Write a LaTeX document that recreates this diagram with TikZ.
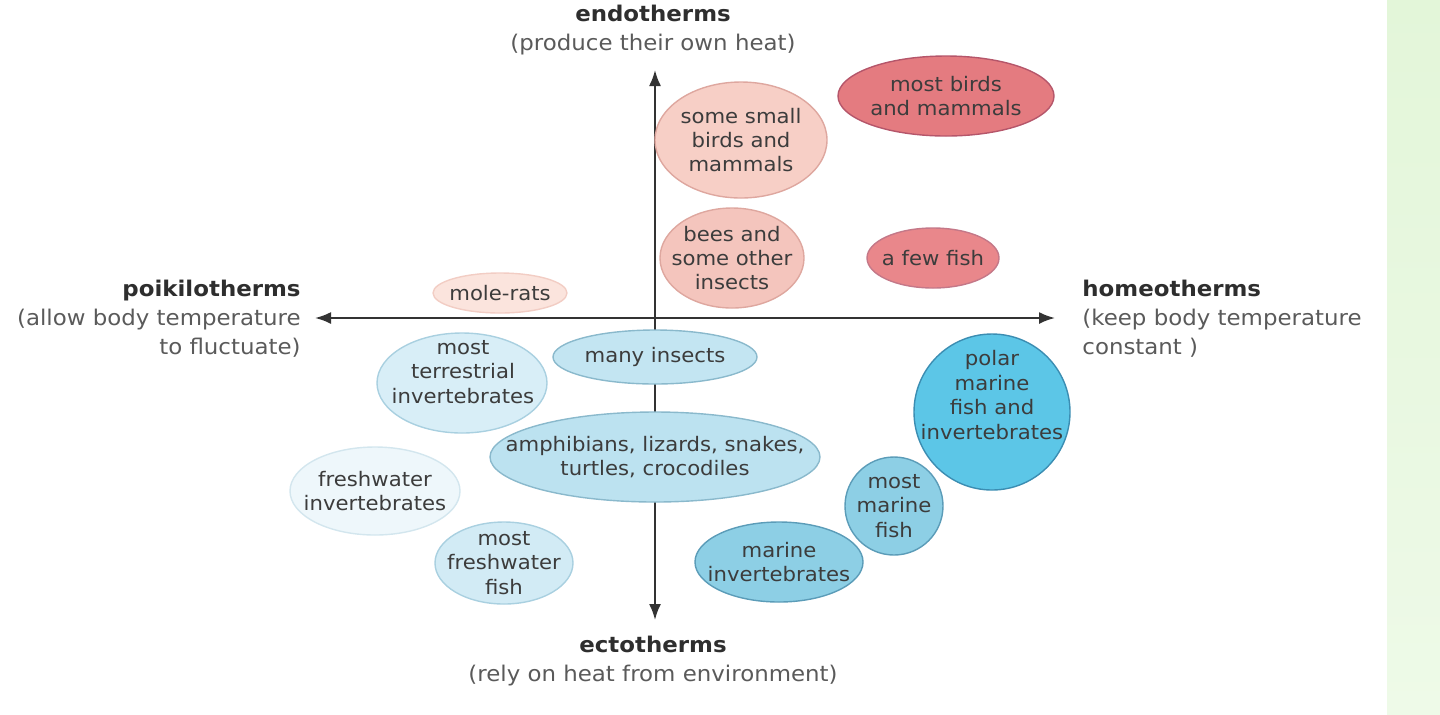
\documentclass[tikz,border=0pt]{standalone}
\usepackage{fontspec}
\setmainfont[FakeStretch=1.06]{DejaVu Sans}
\usetikzlibrary{shapes.geometric,arrows.meta}

\definecolor{axisgray}{HTML}{333333}
\definecolor{headgray}{HTML}{2E2E2E}
\definecolor{subgray}{HTML}{5A5A5A}
\definecolor{txtgray}{HTML}{3C3C3C}
\definecolor{stripA}{HTML}{E3F6D9}
\definecolor{stripB}{HTML}{EEFAE8}
\definecolor{pinkA}{HTML}{F7CFC6}
\definecolor{pinkAline}{HTML}{DEA79F}
\definecolor{redA}{HTML}{E47B80}
\definecolor{redAline}{HTML}{B5566A}
\definecolor{pinkB}{HTML}{F4C5BD}
\definecolor{redB}{HTML}{E9878B}
\definecolor{pinkC}{HTML}{FBE4DD}
\definecolor{pinkCline}{HTML}{F2CDC4}
\definecolor{blueA}{HTML}{C3E5F2}
\definecolor{blueAline}{HTML}{8AB9CC}
\definecolor{blueB}{HTML}{D8EEF7}
\definecolor{blueBline}{HTML}{A9D0E0}
\definecolor{blueC}{HTML}{BCE2F0}
\definecolor{blueD}{HTML}{EEF7FB}
\definecolor{blueDline}{HTML}{D3E6EE}
\definecolor{blueE}{HTML}{D2EBF5}
\definecolor{blueF}{HTML}{8DCFE5}
\definecolor{blueFline}{HTML}{5B9CB8}
\definecolor{blueH}{HTML}{5CC6E7}
\definecolor{blueHline}{HTML}{3B8DB2}

\tikzset{
  blob/.style={ellipse, draw, line width=0.7pt, inner sep=0pt},
  blobtext/.style={align=center, text=txtgray, inner sep=0pt,
    font=\fontsize{10}{12.2}\selectfont},
  axis/.style={line width=1pt, draw=axisgray,
    {Latex[length=8pt,width=6pt]}-{Latex[length=8pt,width=6pt]}},
  headtext/.style={inner sep=0pt, font=\fontsize{10.8}{14.5}\selectfont}
}

\begin{document}
\begin{tikzpicture}[x=0.5pt, y=-0.5pt]
  \useasboundingbox (0,0) rectangle (1440,714);
  % green strip
  \fill[top color=stripA, bottom color=stripB] (1387,0) rectangle (1440,714);

  \coordinate (N) at (655,70);
  \coordinate (S) at (655,620);
  \coordinate (W) at (315,318);
  \coordinate (E) at (1055,318);

  \draw[axis] (S) -- (N);
  \draw[axis] (W) -- (E);

  % axis labels
  \node[headtext, align=center] (endo) at (653,30)
    {\textcolor{headgray}{\bfseries endotherms}\\\textcolor{subgray}{(produce their own heat)}};
  \node[headtext, align=center] (ecto) at (653,661)
    {\textcolor{headgray}{\bfseries ectotherms}\\\textcolor{subgray}{(rely on heat from environment)}};
  \node[headtext, align=right, anchor=east] (poiki) at (301,319)
    {\textcolor{headgray}{\bfseries poikilotherms}\\\textcolor{subgray}{(allow body temperature}\\\textcolor{subgray}{to fluctuate)}};
  \node[headtext, align=left, anchor=west] (homeo) at (1082,319)
    {\textcolor{headgray}{\bfseries homeotherms}\\\textcolor{subgray}{(keep body temperature}\\\textcolor{subgray}{constant )}};

  % endotherm groups
  \node[blob, fill=pinkA, draw=pinkAline, minimum width=86pt, minimum height=58pt] (small) at (741,140) {};
  \node[blobtext] at (small) {some small\\birds and\\mammals};
  \node[blob, fill=redA, draw=redAline, minimum width=108pt, minimum height=40pt] (birds) at (946,96) {};
  \node[blobtext] at (birds) {most birds\\and mammals};
  \node[blob, fill=pinkB, draw=pinkAline, minimum width=72pt, minimum height=50pt] (bees) at (732,258) {};
  \node[blobtext] at (bees) {bees and\\some other\\insects};
  \node[blob, fill=redB, draw=redAline!80, minimum width=66pt, minimum height=30pt] (fewfish) at (933,258) {};
  \node[blobtext] at (fewfish) {a few fish};
  \node[blob, fill=pinkC, draw=pinkCline, minimum width=67pt, minimum height=20pt] (molerats) at (500,293) {};
  \node[blobtext] at (molerats) {mole-rats};

  % ectotherm groups
  \node[blob, fill=blueA, draw=blueAline, minimum width=102pt, minimum height=27pt] (insects) at (655,357) {};
  \node[blobtext] at (insects) {many insects};
  \node[blob, fill=blueB, draw=blueBline, minimum width=85pt, minimum height=50pt] (terrinv) at (462,383) {};
  \node[blobtext] at (463,372) {most\\terrestrial\\invertebrates};
  \node[blob, fill=blueC, draw=blueAline, minimum width=165pt, minimum height=45pt] (amphib) at (655,457) {};
  \node[blobtext] at (amphib) {amphibians, lizards, snakes,\\turtles, crocodiles};
  \node[blob, fill=blueD, draw=blueDline, minimum width=85pt, minimum height=44pt] (freshinv) at (375,491) {};
  \node[blobtext] at (freshinv) {freshwater\\invertebrates};
  \node[blob, fill=blueE, draw=blueBline, minimum width=69pt, minimum height=41pt] (freshfish) at (504,563) {};
  \node[blobtext] at (freshfish) {most\\freshwater\\fish};
  \node[blob, fill=blueF, draw=blueFline, minimum width=84pt, minimum height=40pt] (marinv) at (779,562) {};
  \node[blobtext] at (marinv) {marine\\invertebrates};
  \node[blob, fill=blueF, draw=blueFline, minimum width=49pt, minimum height=49pt] (marfish) at (894,506) {};
  \node[blobtext] at (marfish) {most\\marine\\fish};
  \node[blob, fill=blueH, draw=blueHline, minimum width=78pt, minimum height=78pt] (polar) at (992,412) {};
  \node[blobtext] at (992,395) {polar\\marine\\fish and\\invertebrates};
\end{tikzpicture}
\end{document}
